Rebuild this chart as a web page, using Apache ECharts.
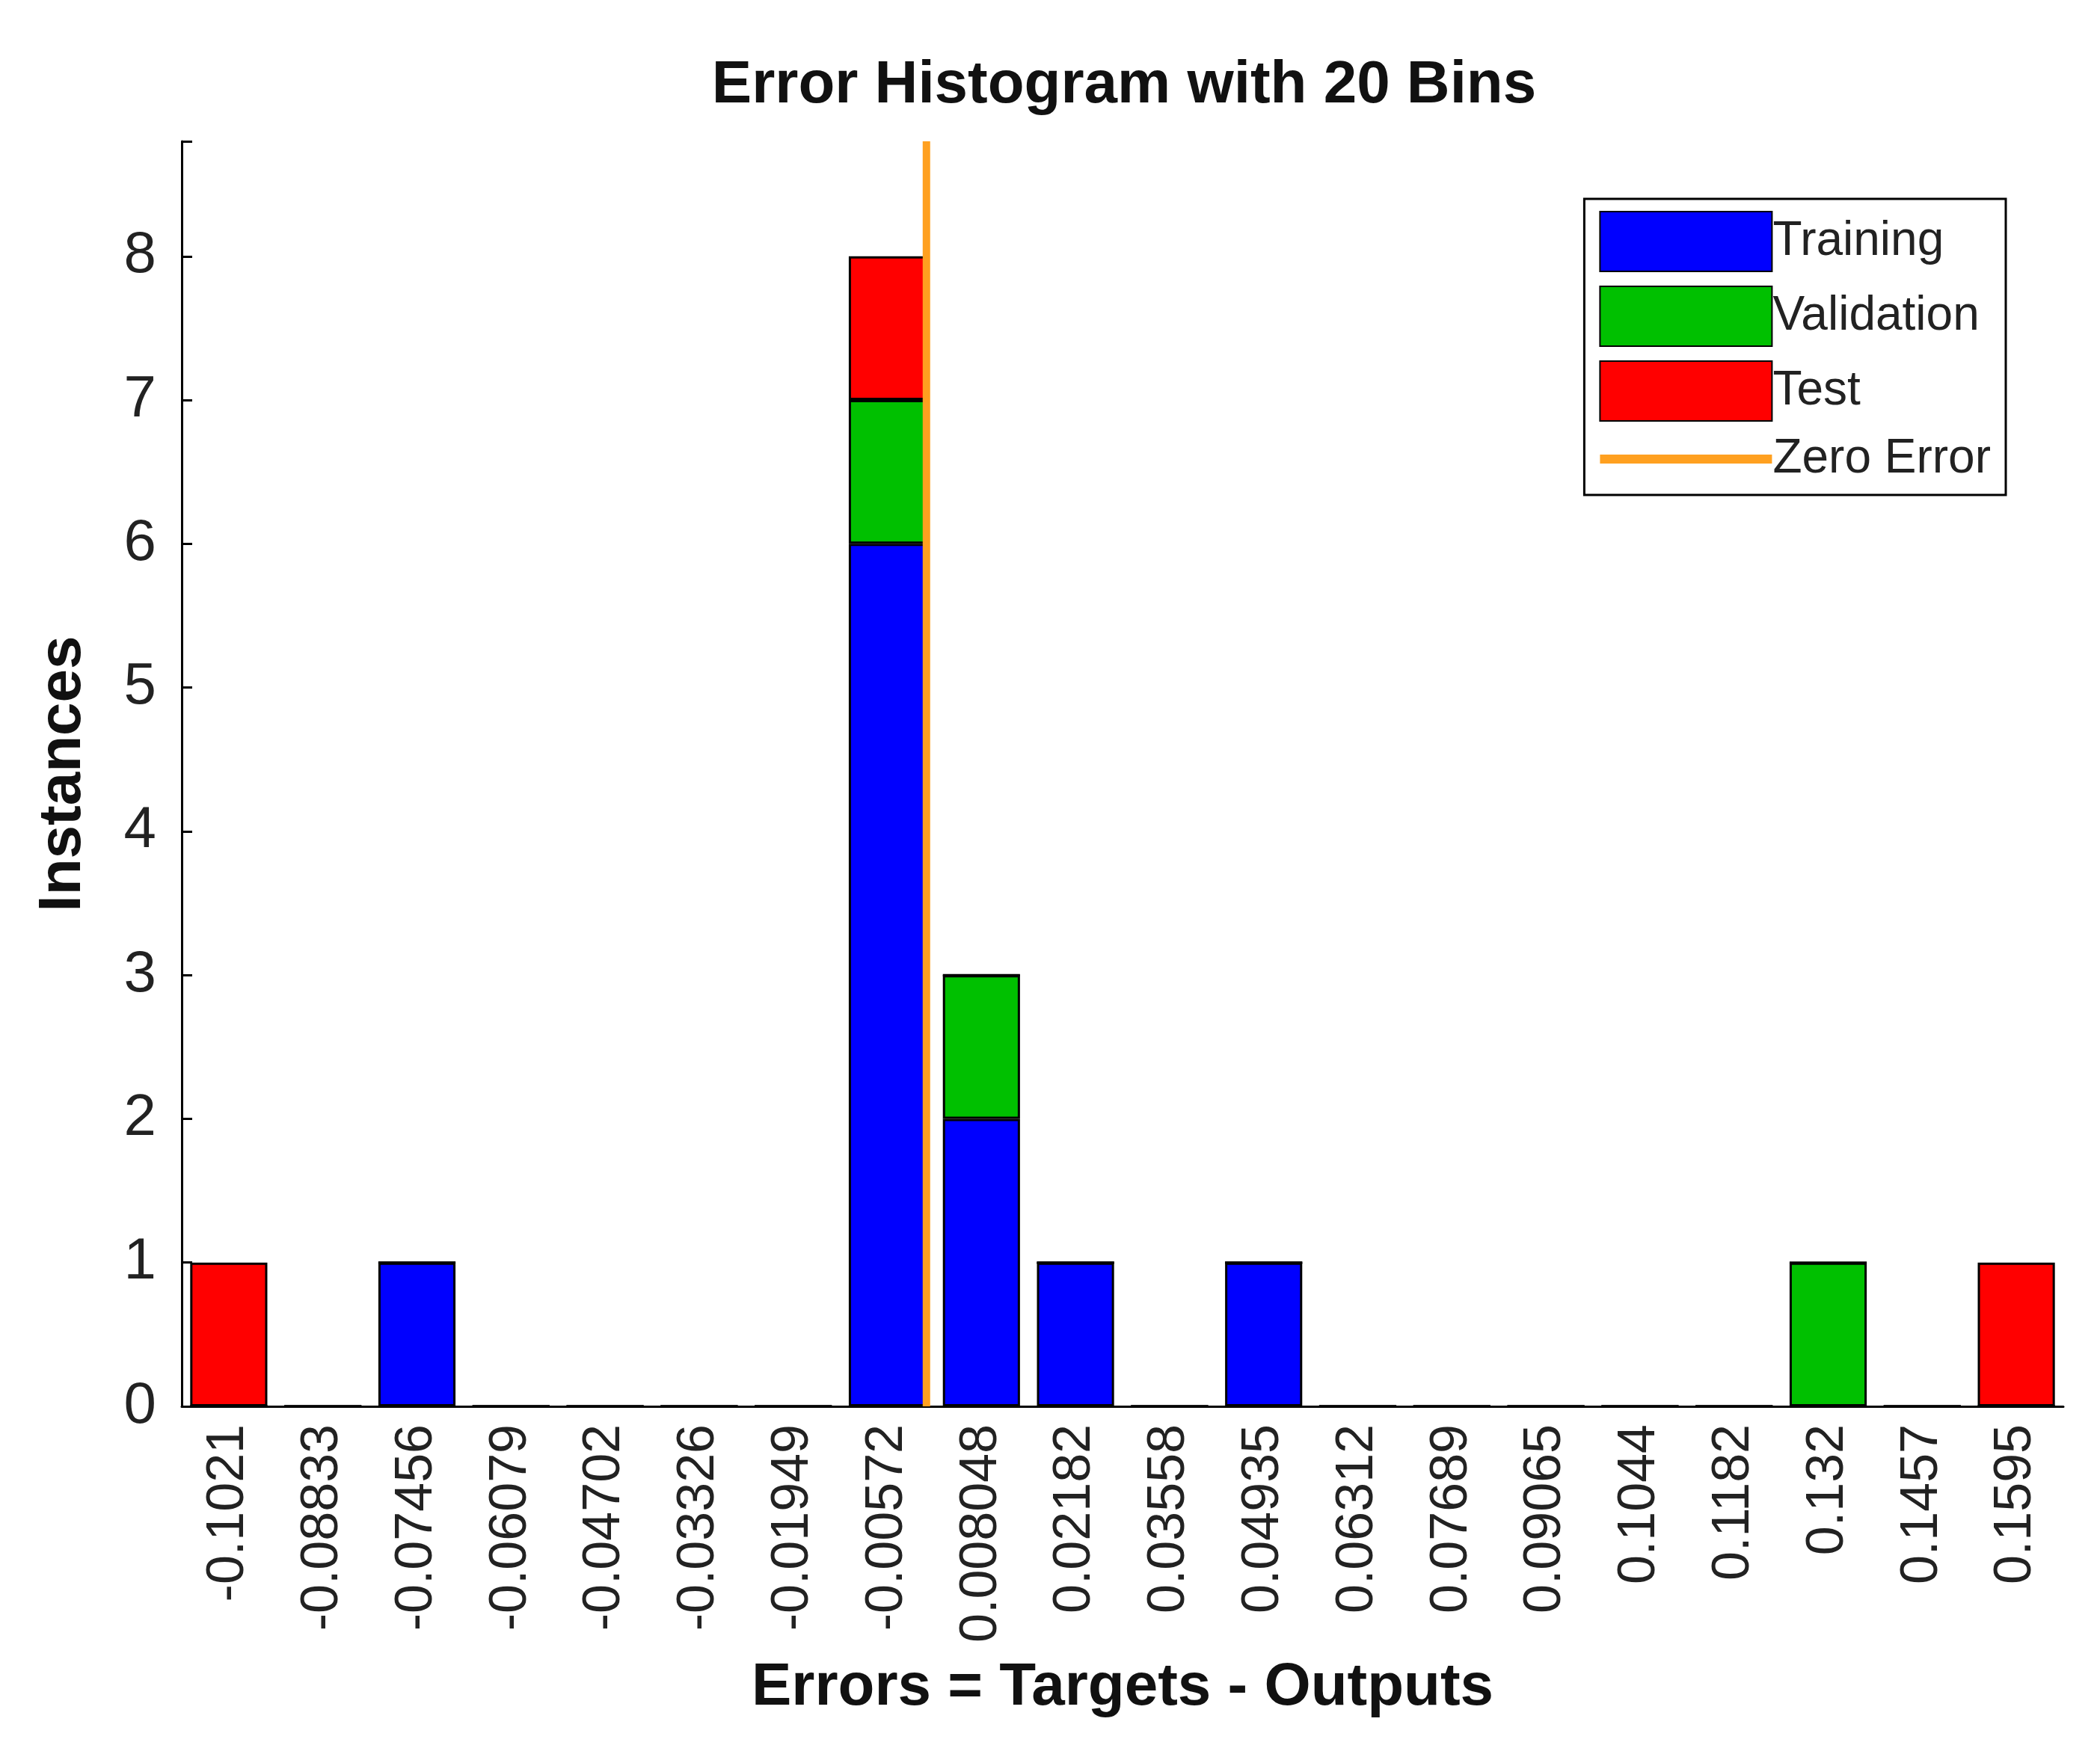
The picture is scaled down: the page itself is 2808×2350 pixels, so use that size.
<!DOCTYPE html>
<html><head><meta charset="utf-8">
<script src="https://cdn.jsdelivr.net/npm/echarts@6/dist/echarts.min.js"></script>
<style>html,body{margin:0;padding:0;background:#fff}#c{width:2808px;height:2350px}</style>
</head><body><div id="c"></div>
<script>
const categories = ['-0.1021','-0.08833','-0.07456','-0.06079','-0.04702','-0.03326','-0.01949','-0.00572','0.008048','0.02182','0.03558','0.04935','0.06312','0.07689','0.09065','0.1044','0.1182','0.132','0.1457','0.1595'];
const training   = [0,0,1,0,0,0,0,6,2,1,0,1,0,0,0,0,0,0,0,0];
const validation = [0,0,0,0,0,0,0,1,1,0,0,0,0,0,0,0,0,1,0,0];
const test       = [1,0,0,0,0,0,0,1,0,0,0,0,0,0,0,0,0,0,0,1];
const binWidth = 0.013768;
const zeroLine = [[0,0],[0,8.8]];

const font = 'Liberation Sans, Arial, sans-serif';
const barStyle = c => ({color:c, borderColor:'#000', borderWidth:3});
const chart = echarts.init(document.getElementById('c'));
chart.setOption({
  animation:false,
  backgroundColor:'#fff',
  title:{text:'Error Histogram with 20 Bins', left:1498, top:70, textAlign:'center',
    textStyle:{fontFamily:font, fontWeight:'bold', fontSize:80, color:'#111'}},
  legend:{right:126, top:266, orient:'vertical', itemWidth:230, itemHeight:80, itemGap:18,
    padding:[16,20,16,20], borderColor:'#000', borderWidth:3, backgroundColor:'#fff', borderRadius:0,
    textStyle:{fontFamily:font, fontSize:64, color:'#222', padding:[0,0,0,-4]},
    data:[{name:'Training',icon:'rect'},{name:'Validation',icon:'rect'},{name:'Test',icon:'rect'},
      {name:'Zero Error',icon:'path://M0,44 L230,44 L230,56 L0,56 Z'}]},
  grid:{left:243, right:49, top:189, bottom:469},
  xAxis:[{type:'category', data:categories, boundaryGap:true,
    axisLine:{lineStyle:{color:'#000', width:3}},
    axisTick:{inside:true, alignWithLabel:true, length:14, lineStyle:{color:'#000', width:3}},
    axisLabel:{rotate:90, interval:0, fontFamily:font, fontSize:70, color:'#222', margin:24},
    name:'Errors = Targets - Outputs', nameLocation:'middle', nameGap:337,
    nameTextStyle:{fontFamily:font, fontWeight:'bold', fontSize:80, color:'#111'}},
   {type:'value', min:-0.1021-binWidth/2, max:0.1595+binWidth/2, show:false}],
  yAxis:{type:'value', min:0, max:8.8, interval:1,
    axisLine:{show:true, onZero:false, lineStyle:{color:'#000', width:3}},
    axisTick:{show:true, inside:true, length:14, lineStyle:{color:'#000', width:3}},
    splitLine:{show:false},
    axisLabel:{fontFamily:font, fontSize:78, color:'#222', margin:34,
      formatter:v=> (v===Math.round(v) && v<=8) ? String(v) : ''},
    name:'Instances', nameLocation:'middle', nameGap:118,
    nameTextStyle:{fontFamily:font, fontWeight:'bold', fontSize:80, color:'#111'}},
  series:[
    {name:'Training', type:'bar', stack:'s', data:training, barCategoryGap:'18%', itemStyle:barStyle('#0000ff')},
    {name:'Validation', type:'bar', stack:'s', data:validation, itemStyle:barStyle('#00c000')},
    {name:'Test', type:'bar', stack:'s', data:test, itemStyle:barStyle('#ff0000')},
    {name:'Zero Error', type:'line', xAxisIndex:1, data:zeroLine, symbol:'none',
      lineStyle:{color:'#ffa020', width:10}, itemStyle:{color:'#ffa020'}, z:5}
  ]
});
</script></body></html>
